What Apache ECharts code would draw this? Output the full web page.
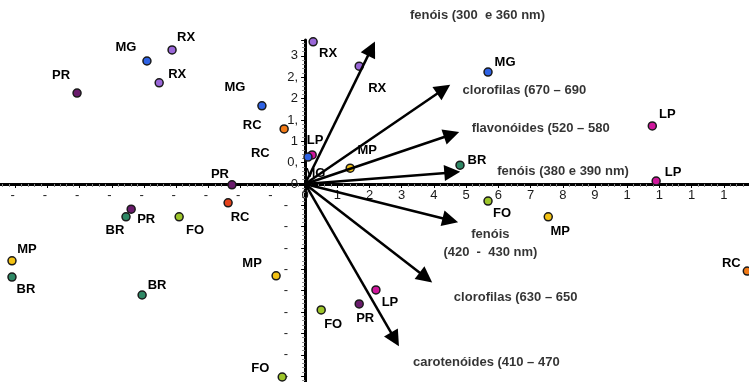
<!DOCTYPE html>
<html>
<head>
<meta charset="utf-8">
<script src="https://cdn.jsdelivr.net/npm/echarts@6/dist/echarts.min.js"></script>
<style>
  html, body { margin: 0; background: #fff; }
  #chart { width: 749px; height: 382px; }
</style>
</head>
<body>
<div id="chart"></div>
<script>
// sample scores (PC1, PC2)
const sampleNames = ["RX", "MG", "RX", "PR", "MG", "RC", "RX", "RX", "MG", "LP", "MG", "MP", "BR", "LP", "LP", "MP",
  "FO", "RC", "PR", "RC", "PR", "BR", "FO", "MP", "BR", "BR", "MP", "FO", "LP", "PR", "FO", "RC"];
const sampleX = [-4.13, -4.91, -4.53, -7.08, -1.34, -0.65, 0.25, 1.68, 5.68, 0.22, 0.09, 1.40, 4.81, 10.78, 10.9, 7.55,
  5.68, 13.73, -2.27, -2.39, -5.40, -5.56, -3.91, -9.10, -9.10, -5.06, -0.90, -0.71, 2.20, 1.68, 0.50, -1.39];
const sampleY = [3.14, 2.88, 2.37, 2.13, 1.83, 1.29, 3.33, 2.76, 2.62, 0.68, 0.63, 0.37, 0.44, 1.36, 0.07, -0.77,
  -0.40, -2.04, -0.02, -0.44, -0.59, -0.77, -0.77, -1.80, -2.18, -2.60, -2.15, -4.52, -2.48, -2.81, -2.95, 0.72];

// variable loadings (arrows)
const loadingNames = ["fenóis (300  e 360 nm)", "clorofilas (670 – 690", "flavonóides (520 – 580",
  "fenóis (380 e 390 nm)", "fenóis\n(420  -  430 nm)", "clorofilas (630 – 650", "carotenóides (410 – 470"];
const loadingX = [2.06, 4.30, 4.55, 4.57, 4.51, 3.75, 2.79];
const loadingY = [3.17, 2.22, 1.16, 0.27, -0.85, -2.19, -3.64];

// axis ranges
const xMin = -10, xMax = 14, xStep = 1;
const yMin = -5, yMax = 3.372, yStep = 0.5;

// styling
const groupColor = { RX: "#9a67d8", MG: "#2e62e4", PR: "#6a1b6c", RC: "#f27a16",
  LP: "#cf169c", MP: "#f3c214", BR: "#2e8865", FO: "#9dc52a" };
const redRC = 19;      // the red-orange RC dot
const labelOnly = 31;  // RC text without a visible dot
const sampleLabelOffset = [[14, -12], [-21, -14], [18, -8], [-16, -18], [-27, -18], [-32, -3], [15, 12], [18, 22],
  [17, -10], [3, -15], [7, 16], [17, -18], [17, -5], [15, -11], [17, -9], [12, 15], [14, 12], [-16, -8], [-12, -10],
  [12, 15], [15, 10], [-11, 14], [16, 14], [15, -11], [14, 12], [15, -10], [-24, -12], [-22, -9], [14, 13], [6, 14],
  [12, 14], [0, 0]];
const arrowLabelPos = [
  { offset: [106, -33], align: "center" },
  { offset: [19, 1], align: "left" },
  { offset: [20, -6], align: "left" },
  { offset: [45, -1], align: "left" },
  { offset: [40, 23], align: "center" },
  { offset: [28, 20], align: "left" },
  { offset: [18, 23], align: "left" }
];

const font = "Liberation Sans";

// main plot area, plus two helper grids whose edges sit on the zero lines (tick labels only)
const gridMain = { left: -17, right: -7, top: 40, bottom: -15.5, outerBoundsMode: "none" };
const gridXLab = { left: -17, right: -7, top: 0, height: 184, outerBoundsMode: "none" };
const gridYLab = { left: 305, right: 0, top: 40, bottom: -15.5, outerBoundsMode: "none" };

function xLabel(v) {
  if (v < 0) return "{neg|-}";
  return String(v).charAt(0);
}
function yLabel(v) {
  if (v < 0) return "{neg|-}";
  return String(v).replace(".", ",").slice(0, 2);
}

const chart = echarts.init(document.getElementById("chart"));

const option = {
  animation: false,
  textStyle: { fontFamily: font },
  grid: [gridMain, gridXLab, gridYLab],
  xAxis: [
    {
      type: "value",
      min: xMin,
      max: xMax,
      interval: xStep,
      splitLine: { show: false },
      axisLine: { onZero: true, lineStyle: { color: "#000", width: 3 } },
      axisTick: { show: true, length: 4, lineStyle: { color: "#000" } },
      minorTick: { show: true, splitNumber: 5, length: 3, lineStyle: { color: "#888" } },
      axisLabel: { show: false }
    },
    {
      gridIndex: 1,
      type: "value",
      min: xMin,
      max: xMax,
      interval: xStep,
      position: "bottom",
      splitLine: { show: false },
      axisLine: { show: false, onZero: false },
      axisTick: { show: false },
      axisLabel: {
        margin: 5,
        fontSize: 13,
        color: "#1a1a1a",
        fontFamily: font,
        showMinLabel: false,
        showMaxLabel: false,
        formatter: xLabel,
        rich: { neg: { fontSize: 13, color: "#1a1a1a", fontFamily: font, padding: [0, 5, 0, 0] } }
      }
    },
    { gridIndex: 2, type: "value", show: false }
  ],
  yAxis: [
    {
      type: "value",
      min: yMin,
      max: yMax,
      interval: yStep,
      splitLine: { show: false },
      axisLine: { onZero: true, lineStyle: { color: "#000", width: 3 } },
      axisTick: { show: true, length: 4, lineStyle: { color: "#000" } },
      minorTick: { show: true, splitNumber: 5, length: 3, lineStyle: { color: "#888" } },
      axisLabel: { show: false }
    },
    { gridIndex: 1, type: "value", show: false },
    {
      gridIndex: 2,
      type: "value",
      min: yMin,
      max: yMax,
      interval: yStep,
      position: "left",
      splitLine: { show: false },
      axisLine: { show: false, onZero: false },
      axisTick: { show: false },
      axisLabel: {
        margin: 7,
        fontSize: 13,
        color: "#1a1a1a",
        fontFamily: font,
        showMinLabel: false,
        showMaxLabel: false,
        formatter: yLabel,
        rich: { neg: { fontSize: 13, color: "#1a1a1a", fontFamily: font, padding: [0, 10, 0, 0] } }
      }
    }
  ],
  series: [
    {
      name: "amostras",
      type: "scatter",
      z: 3,
      symbol: "circle",
      symbolSize: 8,
      silent: true,
      itemStyle: { borderColor: "#1a1a1a", borderWidth: 1.5, opacity: 1 },
      label: {
        show: true,
        position: "inside",
        align: "center",
        verticalAlign: "middle",
        fontFamily: font,
        fontWeight: "bold",
        fontSize: 13,
        color: "#000",
        formatter: "{b}"
      },
      data: sampleNames.map(function (n, i) {
        return {
          name: n,
          value: [sampleX[i], sampleY[i]],
          symbolSize: i === labelOnly ? 0 : 8,
          itemStyle: { color: i === redRC ? "#e5421b" : groupColor[n] },
          label: { offset: sampleLabelOffset[i] }
        };
      })
    },
    {
      name: "setas",
      type: "lines",
      coordinateSystem: "cartesian2d",
      z: 5,
      silent: true,
      symbol: ["none", "triangle"],
      symbolSize: [1, 16],
      lineStyle: { color: "#000", width: 2.5, opacity: 1 },
      data: loadingNames.map(function (n, i) {
        return { coords: [[0, 0], [loadingX[i], loadingY[i]]] };
      })
    },
    {
      name: "variaveis",
      type: "scatter",
      z: 6,
      symbolSize: 0,
      silent: true,
      label: {
        show: true,
        position: "inside",
        verticalAlign: "middle",
        fontFamily: font,
        fontWeight: "bold",
        fontSize: 13,
        lineHeight: 18,
        color: "#000",
        formatter: "{b}"
      },
      data: loadingNames.map(function (n, i) {
        return {
          name: n,
          value: [loadingX[i], loadingY[i]],
          label: { offset: arrowLabelPos[i].offset, align: arrowLabelPos[i].align }
        };
      })
    }
  ]
};

chart.setOption(option);
</script>
</body>
</html>
